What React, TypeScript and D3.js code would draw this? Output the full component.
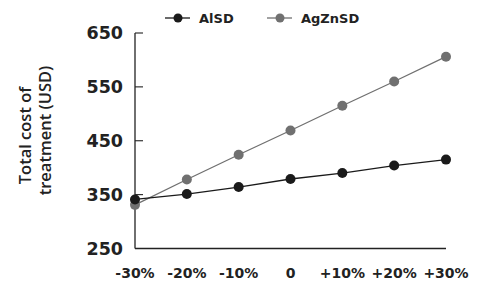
import React from "react";
import * as d3 from "d3";

const categories = ["-30%", "-20%", "-10%", "0", "+10%", "+20%", "+30%"];
const alsd = [341, 351, 364, 379, 390, 404, 415];
const agznsd = [331, 378, 424, 469, 515, 560, 606];
const yTicks = [250, 350, 450, 550, 650];
const seriesNames = ["AlSD", "AgZnSD"];
const colors = ["#1a1a1a", "#707070"];

export default function App() {
  const W = 477, H = 283;
  const x = d3.scalePoint<string>().domain(categories).range([135, 446]);
  const y = d3.scaleLinear().domain([250, 650]).range([248.5, 33]);
  const line = d3.line<number>().x((_, i) => x(categories[i])!).y((d) => y(d));
  const series = [agznsd, alsd];
  const seriesColors = [colors[1], colors[0]];
  const tickFont = "'DejaVu Sans', sans-serif";
  const titleFont = "'Open Sans', 'Liberation Sans', sans-serif";
  return (
    <svg width={W} height={H} style={{ position: "absolute", left: 0, top: 0, background: "#fff" }}>
      {/* axes */}
      <line x1={135} x2={135} y1={y(650)} y2={y(250)} stroke="#222" strokeWidth={1.3} />
      <line x1={135} x2={446} y1={y(250)} y2={y(250)} stroke="#222" strokeWidth={1.3} />
      {yTicks.map((t) => (
        <g key={t}>
          {t !== 250 && <line x1={135} x2={143} y1={y(t)} y2={y(t)} stroke="#222" strokeWidth={1.1} />}
          <text x={123} y={y(t)} dy="0.36em" textAnchor="end" fontFamily={tickFont} fontSize={17.5} fontWeight={700} fill="#222">{t}</text>
        </g>
      ))}
      {categories.map((c) => (
        <text key={c} x={x(c)} y={278} textAnchor="middle" fontFamily={tickFont} fontSize={14} fontWeight={700} fill="#222">{c}</text>
      ))}
      <text transform="translate(31,135.5) rotate(-90)" textAnchor="middle" fontFamily={titleFont} fontSize={16.5} fontWeight={600} fill="#222">Total cost of</text>
      <text transform="translate(51,130.5) rotate(-90)" textAnchor="middle" fontFamily={titleFont} fontSize={16.5} fontWeight={600} fill="#222">treatment (USD)</text>
      {series.map((s, si) => (
        <g key={si}>
          <path d={line(s)!} fill="none" stroke={seriesColors[si]} strokeWidth={1.3} />
          {s.map((v, i) => (
            <circle key={i} cx={x(categories[i])} cy={y(v)} r={5} fill={seriesColors[si]} />
          ))}
        </g>
      ))}
      {/* legend */}
      {seriesNames.map((n, i) => {
        const lx = i === 0 ? 165 : 267;
        return (
          <g key={n}>
            <line x1={lx} x2={lx + 25} y1={18} y2={18} stroke={colors[i]} strokeWidth={1.3} />
            <circle cx={lx + 13} cy={18} r={4.5} fill={colors[i]} />
            <text x={lx + 34} y={18} dy="0.36em" fontFamily={tickFont} fontSize={13} fontWeight={700} fill="#222">{n}</text>
          </g>
        );
      })}
    </svg>
  );
}
